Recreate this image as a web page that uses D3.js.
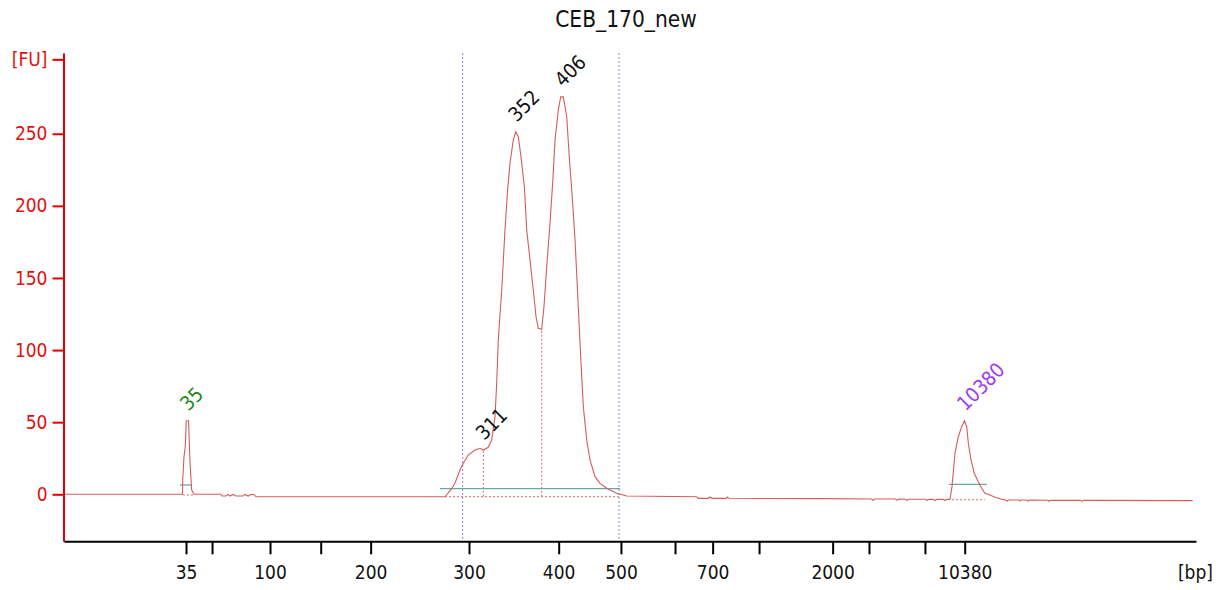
<!DOCTYPE html>
<html>
<head>
<meta charset="utf-8">
<script src="https://cdn.jsdelivr.net/npm/d3@7"></script>
<style>
body { margin: 0; background: #fff; }
text { font-family: 'DejaVu Sans Condensed', 'DejaVu Sans', sans-serif; font-stretch: condensed; }
</style>
</head>
<body>
<div id="chart"></div>
<script>
// electropherogram trace: migration time (s) and fluorescence (FU)
var traceTime = [40, 49.42, 49.44, 49.54, 49.64, 49.72, 49.90, 50.02, 50.15, 50.34,
  52.46, 52.56, 52.88, 53.04, 53.20, 53.44, 53.67, 54.23, 54.39, 54.63, 54.87, 55.11, 55.27,
  70.29, 70.82, 71.09, 71.48, 71.75, 72.14, 72.68, 73.07, 73.34, 73.73, 74.00, 74.27, 74.40,
  74.53, 74.80, 75.06, 75.27, 75.46, 75.72, 75.91, 76.12, 76.33, 76.60, 76.79, 77.05, 77.31,
  77.53, 77.71, 77.98, 78.16, 78.38, 78.64, 78.85, 79.04, 79.30, 79.49, 79.70, 79.97, 80.17,
  80.37, 80.63, 80.89, 81.08, 81.29, 81.56, 81.82, 82.22, 82.61, 83.15, 83.94, 84.74,
  90.30, 90.41, 91.20, 91.36, 91.52, 92.63, 92.75, 92.87, 100.0,
  104.2, 104.32, 104.45, 106.1, 106.23, 106.35, 106.9, 107.02, 107.15, 108.5, 108.61, 108.75,
  109.1, 109.25, 109.4, 109.9, 110.04, 110.2, 110.44,
  110.60, 110.84, 111.10, 111.37, 111.59, 111.77, 111.90, 112.11, 112.37, 112.69, 112.96,
  113.22, 113.62, 114.02, 114.55, 114.85, 114.98, 115.1, 115.9, 116.0, 116.1, 116.5, 116.64,
  116.75, 118.2, 118.31, 118.4, 120.8, 120.94, 121.05, 129.74];
var traceFU = [0, 0, 9.9, 26.1, 33.0, 51.0, 51.0, 21.5, 3.0, 0,
  0, -1.2, -1.2, -0.1, -1.2, -0.1, -1.2, -1.2, -0.1, -1.2, -0.1, -0.1, -1.7,
  -1.7, 3.9, 7.8, 16.8, 21.5, 27.2, 30.7, 31.9, 30.7, 32.6, 37.6, 53.8, 77.0,
  107.0, 141.6, 183.2, 211.0, 229.7, 245.6, 251.4, 247.9, 234.1, 213.3, 183.2, 162.4, 141.6,
  123.1, 115.1, 114.4, 130.1, 157.8, 187.9, 215.6, 245.6, 266.4, 275.6, 275.6, 261.8, 234.1,
  211.0, 176.3, 130.1, 95.4, 60.7, 37.6, 23.8, 12.2, 7.6, 4.2, 0.7, -1.2,
  -1.7, -2.8, -2.8, -1.9, -2.8, -2.8, -1.9, -2.8, -3.0,
  -3.3, -4.2, -3.3, -3.3, -4.2, -3.3, -3.4, -4.3, -3.4, -3.4, -4.3, -3.4,
  -3.5, -4.3, -3.5, -3.5, -4.3, -3.5, -3.5,
  5.3, 28.6, 39.9, 46.9, 51.0, 46.9, 35.4, 23.8, 14.6, 8.7, 4.2,
  0.7, -0.5, -2.1, -3.5, -4.0, -4.7, -4.0, -4.0, -4.7, -4.0, -4.0, -4.7,
  -4.0, -4.1, -4.8, -4.1, -4.2, -4.9, -4.2, -4.4];

// ladder: fragment sizes (bp) and their migration times (s)
var ladderSizes = [35, 50, 100, 150, 200, 300, 400, 500, 600, 700, 1000, 2000, 3000, 7000, 10380];
var ladderTimes = [49.70, 51.77, 56.38, 60.41, 64.38, 72.20, 79.33, 84.28, 88.58, 91.57, 95.26, 101.11, 104.00, 108.45, 111.61];
var labeledSizes = [35, 100, 200, 300, 400, 500, 700, 2000, 10380];

var yTicks = [0, 50, 100, 150, 200, 250, 301.6];

// called peaks
var peakLabels = ['35', '311', '352', '406', '10380'];
var peakTimes = [49.81, 73.34, 75.91, 79.60, 111.59];
var peakFU = [51.0, 30.7, 251.4, 275.6, 51.0];
var peakKinds = ['lower', 'peak', 'peak', 'peak', 'upper'];

// peak baselines (teal) and region
var baseStart = [49.22, 69.89, 110.36];
var baseEnd = [50.18, 84.21, 113.36];
var baseFU = [6.45, 3.9, 6.9];
var regionTimes = [71.70, 84.13];
var floorStart = [49.45, 70.29, 110.60];
var floorEnd = [50.30, 84.20, 113.20];
var floorFU = [-0.5, -1.7, -3.8];
var dropTimes = [73.34, 77.98];
var dropFU = [30.7, 114.4];

var kindColor = { lower: '#1f8a1f', peak: '#111', upper: '#9b3cf0' };

var W = 1216, H = 590;
var svg = d3.select('#chart').append('svg').attr('width', W).attr('height', H);

var x = d3.scaleLinear().domain([40, 130]).range([64, 1196]);
var y = d3.scaleLinear().domain([-32.6, 306]).range([541.3, 53]);

// title
svg.append('text').attr('x', 626).attr('y', 26.5).attr('text-anchor', 'middle')
  .style('font-size', '22.5px').attr('fill', '#111').text('CEB_170_new');

// region markers
svg.selectAll('line.region').data(regionTimes).enter().append('line')
  .attr('class', 'region')
  .attr('x1', function(d) { return x(d); }).attr('x2', function(d) { return x(d); })
  .attr('y1', y(306)).attr('y2', y(-32.6))
  .attr('stroke', '#8a8ae0').attr('stroke-width', 1).attr('stroke-dasharray', '2,2');

// dotted floors
svg.selectAll('line.floor').data(floorFU).enter().append('line')
  .attr('class', 'floor')
  .attr('x1', function(d, i) { return x(floorStart[i]); })
  .attr('x2', function(d, i) { return x(floorEnd[i]); })
  .attr('y1', function(d) { return y(d); }).attr('y2', function(d) { return y(d); })
  .attr('stroke', '#e06060').attr('stroke-width', 1).attr('stroke-dasharray', '2,2');

svg.selectAll('line.drop').data(dropTimes).enter().append('line')
  .attr('class', 'drop')
  .attr('x1', function(d) { return x(d); }).attr('x2', function(d) { return x(d); })
  .attr('y1', y(-1.7)).attr('y2', function(d, i) { return y(dropFU[i]); })
  .attr('stroke', '#e06060').attr('stroke-width', 1).attr('stroke-dasharray', '2,2');

// teal baselines
svg.selectAll('line.base').data(baseFU).enter().append('line')
  .attr('class', 'base')
  .attr('x1', function(d, i) { return x(baseStart[i]); })
  .attr('x2', function(d, i) { return x(baseEnd[i]); })
  .attr('y1', function(d) { return y(d); }).attr('y2', function(d) { return y(d); })
  .attr('stroke', '#6aa9a0').attr('stroke-width', 1.3);

// trace
var line = d3.line()
  .x(function(d) { return x(d); })
  .y(function(d, i) { return y(traceFU[i]); });
svg.append('path').datum(traceTime).attr('d', line)
  .attr('fill', 'none').attr('stroke', '#d45c5c').attr('stroke-width', 1.1);

// peak labels
svg.selectAll('text.peak').data(peakLabels).enter().append('text')
  .attr('class', 'peak')
  .attr('transform', function(d, i) {
    return 'translate(' + (x(peakTimes[i]) + 1) + ',' + (y(peakFU[i]) - 9) + ') rotate(-45)';
  })
  .style('font-size', '20px')
  .attr('fill', function(d, i) { return kindColor[peakKinds[i]]; })
  .text(function(d) { return d; });

// y axis
var yAxis = d3.axisLeft(y).tickValues(yTicks).tickSize(11).tickSizeOuter(0).tickPadding(5)
  .tickFormat(function(d) { return d > 300 ? '[FU]' : d; });
var gy = svg.append('g').attr('transform', 'translate(63.5,0)').call(yAxis);
gy.selectAll('path, line').attr('stroke', '#e00000').attr('stroke-width', 2);
gy.selectAll('text').attr('fill', '#e01010').style('font-size', '19px')
  .style('font-family', "'DejaVu Sans Condensed', 'DejaVu Sans', sans-serif");

// x axis
var xAxis = d3.axisBottom(x).tickValues(ladderTimes).tickSize(13).tickSizeOuter(0).tickPadding(11)
  .tickFormat(function(d, i) {
    return labeledSizes.indexOf(ladderSizes[i]) >= 0 ? ladderSizes[i] : '';
  });
var gx = svg.append('g').attr('transform', 'translate(0,541.3)').call(xAxis);
gx.selectAll('path, line').attr('stroke', '#000').attr('stroke-width', 2);
gx.selectAll('text').attr('fill', '#111').style('font-size', '19px')
  .style('font-family', "'DejaVu Sans Condensed', 'DejaVu Sans', sans-serif");

svg.append('text').attr('x', 1213).attr('y', 579).attr('text-anchor', 'end')
  .style('font-size', '19px').attr('fill', '#111').text('[bp]');
</script>
</body>
</html>
